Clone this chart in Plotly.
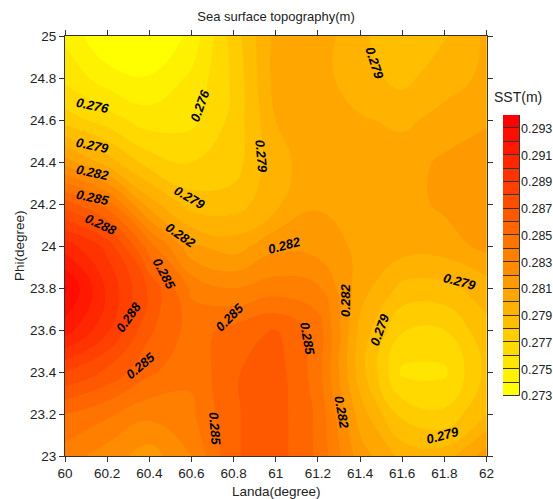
import plotly.graph_objects as go

landa = [60, 60.2, 60.4, 60.6, 60.8, 61, 61.2, 61.4, 61.6, 61.8, 62]
phi = [23, 23.2, 23.4, 23.6, 23.8, 24, 24.2, 24.4, 24.6, 24.8, 25]
sst = [
    [.2835, .2825, .2815, .2830, .2859, .2865, .2848, .2815, .2797, .2795, .2815],
    [.2850, .2842, .2833, .2838, .2859, .2865, .2848, .2805, .2777, .2772, .2790],
    [.2880, .2868, .2852, .2842, .2859, .2865, .2845, .2795, .2758, .2758, .2783],
    [.2915, .2892, .2862, .2846, .2853, .2860, .2846, .2797, .2771, .2770, .2787],
    [.2932, .2898, .2868, .2838, .2830, .2835, .2832, .2805, .2787, .2787, .2795],
    [.2905, .2887, .2845, .2812, .2805, .2817, .2815, .2808, .2805, .2805, .2813],
    [.2865, .2845, .2805, .2785, .2785, .2798, .2809, .2806, .2806, .2812, .2815],
    [.2815, .2795, .2775, .2770, .2775, .2797, .2805, .2805, .2805, .2812, .2818],
    [.2775, .2765, .2755, .2757, .2773, .2800, .2803, .2801, .2798, .2803, .2808],
    [.2757, .2745, .2741, .2752, .2772, .2804, .2804, .2794, .2787, .2796, .2802],
    [.2748, .2730, .2728, .2743, .2775, .2803, .2806, .2792, .2783, .2789, .2802],
]
label_text = ["0.276", "0.276", "0.279", "0.279", "0.282", "0.285", "0.288", "0.279", "0.282", "0.285", "0.288",
              "0.285", "0.285", "0.285", "0.282", "0.282", "0.285", "0.279", "0.279", "0.279", "0.282", "0.279"]
label_x = [60.13, 60.64, 60.13, 60.93, 60.13, 60.13, 60.17, 60.59, 60.55, 60.47, 60.30,
           60.36, 60.78, 60.71, 61.04, 61.33, 61.15, 61.49, 61.87, 61.79, 61.31, 61.47]
label_y = [24.67, 24.67, 24.48, 24.43, 24.35, 24.23, 24.10, 24.23, 24.05, 23.87, 23.66,
           23.43, 23.66, 23.13, 24.00, 23.74, 23.56, 23.60, 23.83, 23.10, 23.21, 24.87]
label_angle = [12, -70, 12, 85, 12, 12, 25, 30, 35, 62, -55,
               -40, -45, 85, -15, -90, 80, -70, 15, -15, 80, 72]
bar_ticks = [.273, .275, .277, .279, .281, .283, .285, .287, .289, .291, .293]
band_lows = [.273, .274, .275, .276, .277, .278, .279, .280, .281, .282, .283, .284, .285,
             .286, .287, .288, .289, .290, .291, .292, .293]

FONT = "Liberation Sans"
INK = "#222222"
W, H = 553, 499
scale = [[0, "#ffff00"], [1, "#ff0000"]]
n_bands = len(band_lows)
band_colors = [f"rgb(255,{round(255 * (1 - i / (n_bands - 1)))},0)" for i in range(n_bands)]

fig = go.Figure()
fig.add_trace(go.Contour(
    x=landa, y=phi, z=sst, colorscale=scale, zmin=.2735, zmax=.2935, autocontour=False,
    contours=dict(start=.274, end=.293, size=.001, coloring="fill", showlines=False),
    line=dict(width=0, smoothing=1.3), showscale=False,
))
fig.add_trace(go.Bar(
    x=[1] * n_bands, y=[v + .0005 for v in band_lows], width=.001, orientation="h", xaxis="x2", yaxis="y2",
    marker=dict(color=band_colors, line=dict(color="#333333", width=1)), showlegend=False,
))
axis = dict(ticks="outside", ticklen=5, tickwidth=1, tickcolor="#333333", showline=True, linecolor="#333333",
            linewidth=1, mirror="ticks", showgrid=False, zeroline=False, automargin=False,
            tickfont=dict(family=FONT, size=13.5, color=INK))
fig.update_layout(
    width=W, height=H, margin=dict(l=0, r=0, t=0, b=0, autoexpand=False), paper_bgcolor="white",
    plot_bgcolor="white", autosize=False, font=dict(family=FONT, color=INK), bargap=0,
    title=dict(text="Sea surface topography(m)", x=276 / W, xanchor="center", y=1 - 16 / H, yanchor="middle",
               yref="container", automargin=False, font=dict(family=FONT, size=13, color=INK)),
    xaxis=dict(axis, domain=[65 / W, 486.5 / W], range=[60, 62], tickvals=landa,
               ticktext=[f"{v:g}" for v in landa]),
    yaxis=dict(axis, domain=[1 - 456 / H, 1 - 36 / H], range=[23, 25], tickvals=phi,
               ticktext=[f"{v:g}" for v in phi]),
    xaxis2=dict(domain=[503 / W, 520 / W], range=[0, 1], visible=False, anchor="y2"),
    yaxis2=dict(domain=[1 - 396 / H, 1 - 115 / H], range=[.273, .294], side="right", anchor="x2",
                tickmode="array", tickvals=bar_ticks, tickformat=".3f", ticks="", showgrid=False, zeroline=False,
                showline=False, automargin=False, tickfont=dict(family=FONT, size=12.5, color=INK)),
)
for t, x, y, a in zip(label_text, label_x, label_y, label_angle):
    fig.add_annotation(x=x, y=y, text=f"<b><i>{t}</i></b>", textangle=a, showarrow=False,
                       font=dict(family=FONT, size=13, color="black"))
for txt, px, py, ang, sz in [("SST(m)", 518, 97, 0, 14), ("Landa(degree)", 276, 491, 0, 13.5),
                             ("Phi(degree)", 19, 246, -90, 13.5)]:
    fig.add_annotation(xref="paper", yref="paper", x=px / W, y=1 - py / H, xanchor="center", yanchor="middle",
                       text=txt, textangle=ang, showarrow=False, font=dict(family=FONT, size=sz, color=INK))
fig.write_html("out.html", config={"displayModeBar": False},
               post_script="document.body.style.margin='0';document.documentElement.style.overflow='hidden';")
